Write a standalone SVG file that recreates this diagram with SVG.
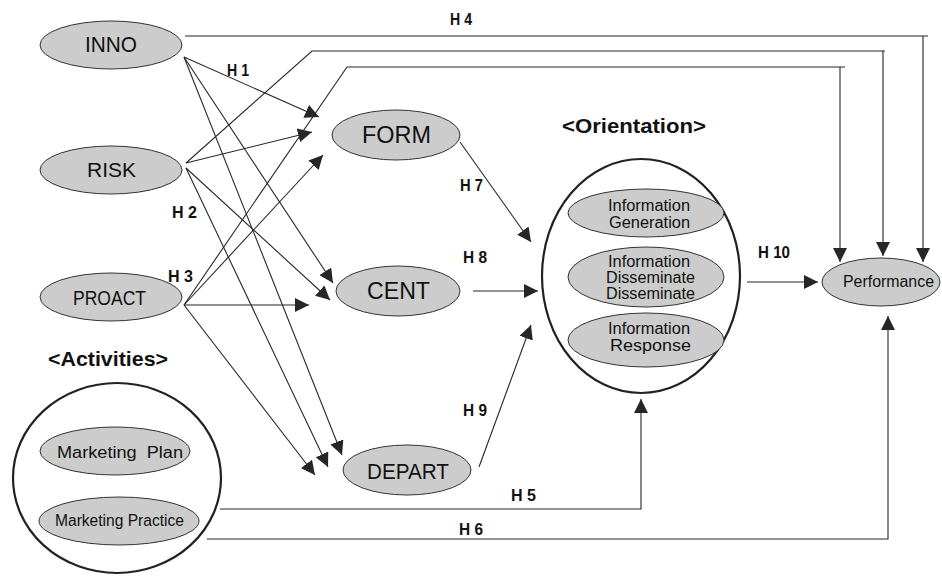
<svg xmlns="http://www.w3.org/2000/svg" width="942" height="576" viewBox="0 0 942 576">
<defs>
<style>
.n ellipse{fill:#cccccc;stroke:#333;stroke-width:1}
.big{fill:none;stroke:#222;stroke-width:2.2}
text{font-family:"Liberation Sans",Arial,sans-serif;fill:#111}
.lbl{font-weight:bold;font-size:17px}
.ttl{font-weight:bold;font-size:21px}
.c path{stroke:#262626;stroke-width:1.1;fill:none}
</style>
<marker id="a" markerWidth="14" markerHeight="14" refX="14" refY="7" orient="auto" markerUnits="userSpaceOnUse"><path d="M0,0 L14,7 L0,14 z" fill="#262626"/></marker>
</defs>
<rect width="942" height="576" fill="#fff"/>

<g id="connectors" class="c">
<path d="M185,36 H928"/>
<path d="M923,36 V262" marker-end="url(#a)"/>
<path d="M186,163 L312,51 H885"/>
<path d="M883,51 V256" marker-end="url(#a)"/>
<path d="M184,305 L347,67 H845"/>
<path d="M840,67 V262" marker-end="url(#a)"/>
<path d="M184,57 L319,117" marker-end="url(#a)"/>
<path d="M184,57 L333,283" marker-end="url(#a)"/>
<path d="M184,57 L342,455" marker-end="url(#a)"/>
<path d="M186,163 L312,132" marker-end="url(#a)"/>
<path d="M186,168 L330,300" marker-end="url(#a)"/>
<path d="M186,168 L328,467" marker-end="url(#a)"/>
<path d="M184,305 L323,155" marker-end="url(#a)"/>
<path d="M184,305 L309,305" marker-end="url(#a)"/>
<path d="M184,305 L315,475" marker-end="url(#a)"/>
<path d="M460,142 L531,242" marker-end="url(#a)"/>
<path d="M473,291 L538,291" marker-end="url(#a)"/>
<path d="M479,467 L531,325" marker-end="url(#a)"/>
<path d="M747,282 L818,282" marker-end="url(#a)"/>
<path d="M220,509 H641 V399" marker-end="url(#a)"/>
<path d="M207,539 H888 V316" marker-end="url(#a)"/>
</g>

<g id="labels">
<text class="lbl" x="227" y="76" textLength="22" lengthAdjust="spacingAndGlyphs">H 1</text>
<text class="lbl" x="172" y="218" textLength="25" lengthAdjust="spacingAndGlyphs">H 2</text>
<text class="lbl" x="168" y="282" textLength="25" lengthAdjust="spacingAndGlyphs">H 3</text>
<text class="lbl" x="450" y="25" textLength="22" lengthAdjust="spacingAndGlyphs">H 4</text>
<text class="lbl" x="511" y="501" textLength="25" lengthAdjust="spacingAndGlyphs">H 5</text>
<text class="lbl" x="459" y="535" textLength="24" lengthAdjust="spacingAndGlyphs">H 6</text>
<text class="lbl" x="460" y="191" textLength="23" lengthAdjust="spacingAndGlyphs">H 7</text>
<text class="lbl" x="463" y="263" textLength="24" lengthAdjust="spacingAndGlyphs">H 8</text>
<text class="lbl" x="463" y="416" textLength="24" lengthAdjust="spacingAndGlyphs">H 9</text>
<text class="lbl" x="758" y="258" textLength="32" lengthAdjust="spacingAndGlyphs">H 10</text>
<text class="ttl" x="562" y="133" textLength="144" lengthAdjust="spacingAndGlyphs">&lt;Orientation&gt;</text>
<text class="ttl" x="48" y="366" textLength="120" lengthAdjust="spacingAndGlyphs">&lt;Activities&gt;</text>
</g>

<g id="INNO" class="n"><ellipse cx="111" cy="45" rx="71" ry="24"/><text x="85" y="52" font-size="22" textLength="52" lengthAdjust="spacingAndGlyphs">INNO</text></g>
<g id="RISK" class="n"><ellipse cx="111" cy="170" rx="71" ry="24"/><text x="87" y="177" font-size="21" textLength="49" lengthAdjust="spacingAndGlyphs">RISK</text></g>
<g id="PROACT" class="n"><ellipse cx="111" cy="297" rx="71" ry="24"/><text x="73" y="305" font-size="20" textLength="73" lengthAdjust="spacingAndGlyphs">PROACT</text></g>
<g id="FORM" class="n"><ellipse cx="396" cy="135" rx="64" ry="25"/><text x="362" y="143" font-size="23.5" textLength="69" lengthAdjust="spacingAndGlyphs">FORM</text></g>
<g id="CENT" class="n"><ellipse cx="398" cy="291" rx="62" ry="25"/><text x="367" y="299" font-size="23" textLength="63" lengthAdjust="spacingAndGlyphs">CENT</text></g>
<g id="DEPART" class="n"><ellipse cx="407" cy="470" rx="64" ry="25"/><text x="367" y="479" font-size="22" textLength="82" lengthAdjust="spacingAndGlyphs">DEPART</text></g>
<g id="Performance" class="n"><ellipse cx="881" cy="282" rx="59" ry="24"/><text x="843" y="287" font-size="16" textLength="91" lengthAdjust="spacingAndGlyphs">Performance</text></g>

<g id="Orientation">
<ellipse class="big" cx="641" cy="276" rx="99" ry="117"/>
<g id="InfoGeneration" class="n"><ellipse cx="646" cy="213" rx="78" ry="24"/>
<text x="608" y="211" font-size="16" textLength="82" lengthAdjust="spacingAndGlyphs">Information</text>
<text x="609" y="228" font-size="16" textLength="81" lengthAdjust="spacingAndGlyphs">Generation</text></g>
<g id="InfoDisseminate" class="n"><ellipse cx="646" cy="277" rx="78" ry="30"/>
<text x="608" y="267" font-size="16" textLength="82" lengthAdjust="spacingAndGlyphs">Information</text>
<text x="606" y="283" font-size="16" textLength="89" lengthAdjust="spacingAndGlyphs">Disseminate</text>
<text x="606" y="299" font-size="16" textLength="89" lengthAdjust="spacingAndGlyphs">Disseminate</text></g>
<g id="InfoResponse" class="n"><ellipse cx="646" cy="340" rx="78" ry="27"/>
<text x="608" y="334" font-size="16" textLength="82" lengthAdjust="spacingAndGlyphs">Information</text>
<text x="610" y="351" font-size="16" textLength="81" lengthAdjust="spacingAndGlyphs">Response</text></g>
</g>

<g id="Activities">
<ellipse class="big" cx="117" cy="478" rx="104" ry="95"/>
<g id="MarketingPlan" class="n"><ellipse cx="115" cy="451" rx="75" ry="24"/>
<text x="57" y="458" font-size="16" textLength="126" lengthAdjust="spacingAndGlyphs" xml:space="preserve">Marketing  Plan</text></g>
<g id="MarketingPractice" class="n"><ellipse cx="119" cy="521" rx="80" ry="24"/>
<text x="55" y="526" font-size="16" textLength="129" lengthAdjust="spacingAndGlyphs">Marketing Practice</text></g>
</g>
</svg>
